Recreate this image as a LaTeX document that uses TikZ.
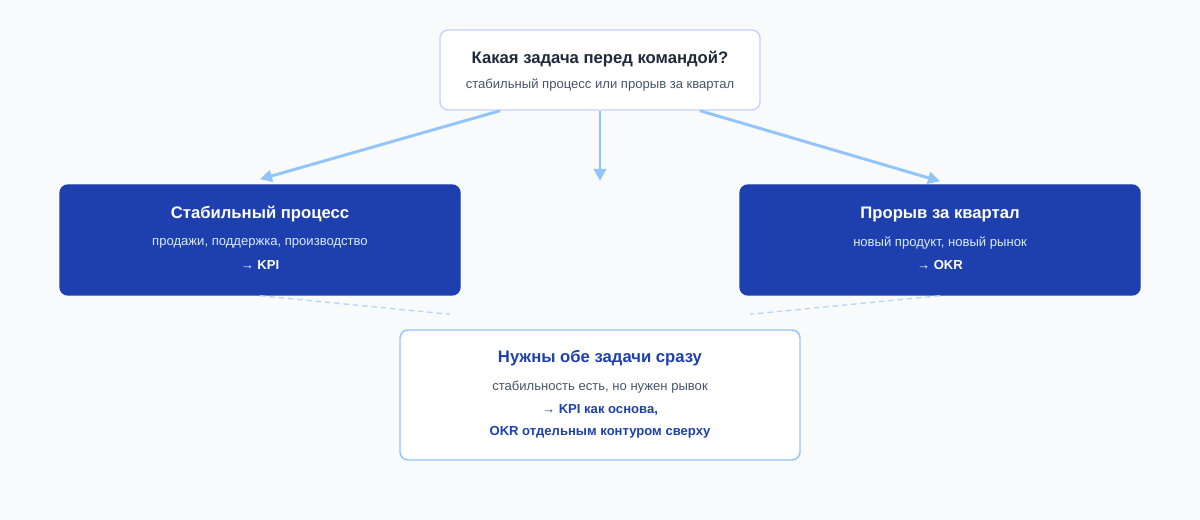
\documentclass[tikz,border=0pt]{standalone}
\usepackage{fontspec}
\setmainfont{Liberation Sans}
\usetikzlibrary{positioning,arrows.meta}
\definecolor{mybg}{HTML}{F8FAFC}
\definecolor{myblue}{HTML}{1E40AF}
\definecolor{myarrow}{HTML}{93C5FD}
\definecolor{myedge}{HTML}{C7D2FE}
\definecolor{mydark}{HTML}{1E293B}
\definecolor{mygrey}{HTML}{475569}
\definecolor{mylight}{HTML}{DBEAFE}
\tikzset{
  box/.style={draw,rounded corners=6pt,line width=1.1pt,minimum width=400*0.75pt,minimum height=110*0.75pt,inner sep=0pt},
  headbox/.style={box,fill=white,draw=myedge,minimum width=320*0.75pt,minimum height=80*0.75pt},
  darkbox/.style={box,fill=myblue,draw=myblue},
  mixbox/.style={box,fill=white,draw=myarrow,minimum height=130*0.75pt},
  title/.style={font=\bfseries\fontsize{12.5}{14}\selectfont},
  sub/.style={font=\fontsize{9.8}{12}\selectfont},
  flow/.style={draw=myarrow,line width=2.2pt,-{Triangle[length=9pt,width=9pt]}},
  link/.style={draw=myarrow!70,line width=1pt,dash pattern=on 4pt off 3pt}
}
\begin{document}
\begin{tikzpicture}[x=0.75pt,y=-0.75pt]
\fill[mybg] (0,0) rectangle (1200,520);
\useasboundingbox (0,0) rectangle (1200,520);
% boxes
\node[headbox] (task) at (600,70) {};
\node[darkbox] (stable) at (260,240) {};
\node[darkbox] (break) at (940,240) {};
\node[mixbox] (both) at (600,395) {};
% texts
\node[title,text=mydark] at (600,59) {Какая задача перед командой?};
\node[sub,text=mygrey] at (600,85) {стабильный процесс или прорыв за квартал};
\node[title,text=white] at (260,214) {Стабильный процесс};
\node[sub,text=mylight] at (260,243) {продажи, поддержка, производство};
\node[sub,text=white,font=\bfseries\fontsize{9.8}{12}\selectfont] at (260,265) {→ KPI};
\node[title,text=white] at (940,214) {Прорыв за квартал};
\node[sub,text=mylight] at (940,243) {новый продукт, новый рынок};
\node[sub,text=white,font=\bfseries\fontsize{9.8}{12}\selectfont] at (940,265) {→ OKR};
\node[title,text=myblue] at (600,358) {Нужны обе задачи сразу};
\node[sub,text=mygrey] at (600,387) {стабильность есть, но нужен рывок};
\node[sub,text=myblue,font=\bfseries\fontsize{9.8}{12}\selectfont] at (600,410) {→ KPI как основа,};
\node[sub,text=myblue,font=\bfseries\fontsize{9.8}{12}\selectfont] at (600,432) {OKR отдельным контуром сверху};
% connectors
\coordinate (midend) at (600,181);
\draw[flow] ([xshift=-100*0.75pt]task.south) -- ([yshift=5*0.75pt]stable.north);
\draw[flow] (task.south) -- (midend);
\draw[flow] ([xshift=100*0.75pt]task.south) -- ([yshift=3*0.75pt]break.north);
\draw[link] (stable.south) -- ([xshift=-150*0.75pt,yshift=15*0.75pt]both.north);
\draw[link] (break.south) -- ([xshift=150*0.75pt,yshift=15*0.75pt]both.north);
\end{tikzpicture}
\end{document}
